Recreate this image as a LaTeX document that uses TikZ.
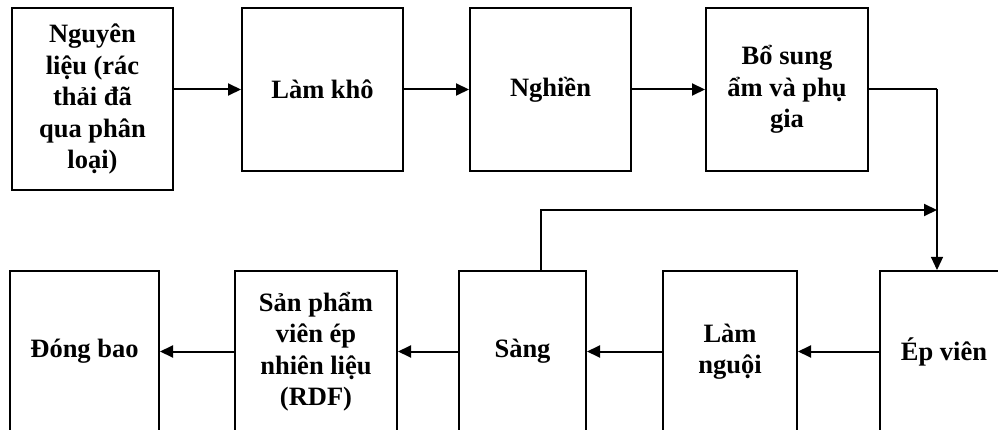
\documentclass[tikz,border=0pt]{standalone}
\usepackage{fontspec}
\setmainfont{Liberation Serif}
\usetikzlibrary{arrows.meta, positioning}

\begin{document}
\begin{tikzpicture}[
    x=1pt, y=-1pt,
    box/.style={rectangle, draw, line width=2pt, inner sep=0pt, align=center, minimum height=163pt, font=\fontsize{26.5}{31.5}\selectfont\bfseries},
    arrow/.style={-{Triangle[length=13pt, width=12pt]}, line width=2pt}
]
\useasboundingbox (0,0) rectangle (998,430);
\clip (0,0) rectangle (998,430);

% Top row
\node[box, minimum width=161pt, minimum height=182pt] (raw) at (92.5,99) {Nguyên\\liệu (rác\\thải đã\\qua phân\\loại)};
\node[box, minimum width=161pt] (dry) at (322.5,89.5) {Làm khô};
\node[box, minimum width=161pt] (grind) at (550.5,89.5) {Nghiền};
\node[box, minimum width=162pt] (mix) at (787,89.5) {Bổ sung\\ẩm và phụ\\gia};

% Bottom row
\node[box, minimum width=128pt, minimum height=161pt] (press) at (944,351.5) {Ép viên};
\node[box, minimum width=134pt, minimum height=161pt] (cool) at (730,351.5) {Làm\\nguội};
\node[box, minimum width=127pt, minimum height=161pt] (sieve) at (522.5,351.5) {Sàng};
\node[box, minimum width=162pt, minimum height=161pt] (rdf) at (316,351.5) {Sản phẩm\\viên ép\\nhiên liệu\\(RDF)};
\node[box, minimum width=149pt, minimum height=161pt] (bag) at (84.5,351.5) {Đóng bao};

% Return point
\coordinate (merge) at (937,210);

% Arrows
\draw[arrow] (raw.east |- dry.west) -- (dry.west);
\draw[arrow] (dry) -- (grind);
\draw[arrow] (grind) -- (mix);
\draw[line width=2pt] (mix.east) -- (mix.east -| merge);
\draw[arrow, line width=1.2pt] (mix.east -| merge) -- (merge |- press.north);
\draw[arrow] ([xshift=18.5pt]sieve.north) |- (merge);
\draw[arrow] (press.west |- cool.east) -- (cool.east);
\draw[arrow] (cool) -- (sieve);
\draw[arrow] (sieve) -- (rdf);
\draw[arrow] (rdf) -- (bag);

\end{tikzpicture}
\end{document}
